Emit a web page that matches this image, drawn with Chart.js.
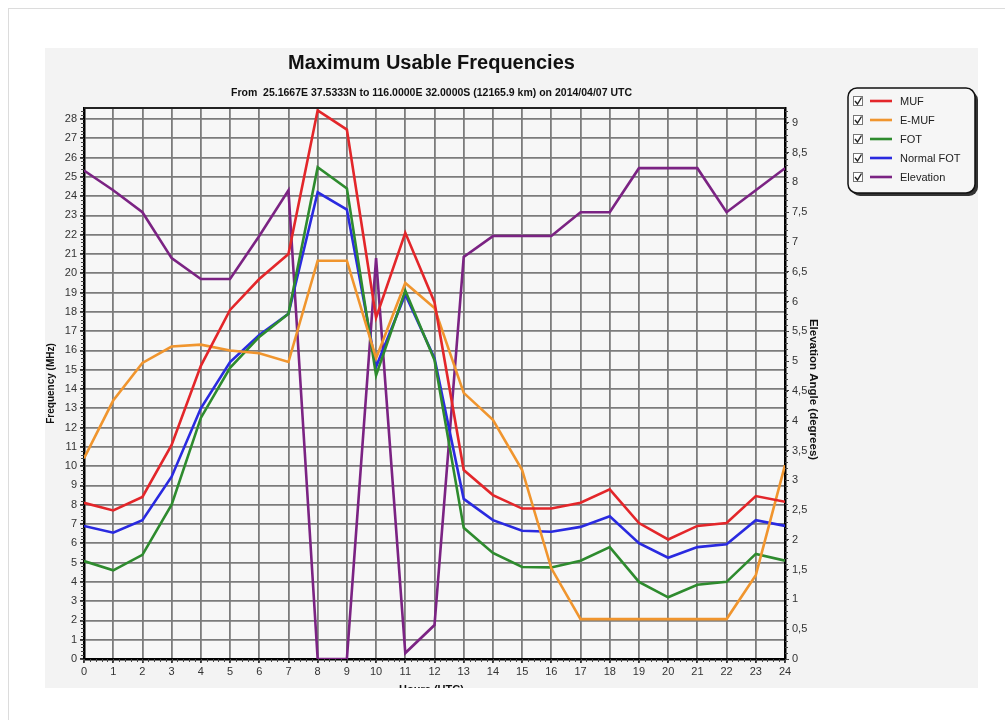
<!DOCTYPE html>
<html><head><meta charset="utf-8">
<script src="https://cdn.jsdelivr.net/npm/chart.js@4"></script>
<style>html,body{margin:0;padding:0;background:#fff;}canvas{display:block;}</style>
</head><body>
<canvas id="c" width="1005" height="720"></canvas>
<script>
const hours = [0,1,2,3,4,5,6,7,8,9,10,11,12,13,14,15,16,17,18,19,20,21,22,23,24];
const muf  = [8.1,7.7,8.4,11.1,15.2,18.1,19.7,21.0,28.45,27.45,17.7,22.1,18.5,9.8,8.5,7.8,7.8,8.1,8.8,7.05,6.2,6.9,7.05,8.45,8.15];
const emuf = [10.4,13.4,15.35,16.2,16.3,16.0,15.85,15.4,20.65,20.65,15.6,19.5,18.2,13.8,12.4,9.8,4.7,2.07,2.07,2.07,2.07,2.07,2.07,4.35,10.05];
const fot  = [5.08,4.6,5.4,8.0,12.5,15.1,16.7,17.9,25.5,24.4,14.7,19.1,15.5,6.8,5.5,4.77,4.75,5.1,5.8,4.0,3.2,3.85,4.0,5.45,5.1];
const nfot = [6.9,6.55,7.2,9.45,13.0,15.4,16.8,17.9,24.2,23.3,15.15,18.9,15.6,8.3,7.2,6.65,6.6,6.85,7.4,6.0,5.25,5.8,5.95,7.2,6.9];
const elev = [8.2,7.87,7.5,6.73,6.38,6.38,7.1,7.87,0,0,6.73,0.1,0.57,6.75,7.1,7.1,7.1,7.5,7.5,8.24,8.24,8.24,7.5,7.87,8.24];
const freqTicks = [0,1,2,3,4,5,6,7,8,9,10,11,12,13,14,15,16,17,18,19,20,21,22,23,24,25,26,27,28];
const elevTicks = [0,0.5,1,1.5,2,2.5,3,3.5,4,4.5,5,5.5,6,6.5,7,7.5,8,8.5,9];
const seriesNames = ['MUF','E-MUF','FOT','Normal FOT','Elevation'];
const titleText = 'Maximum Usable Frequencies';
const subtitleText = 'From  25.1667E 37.5333N to 116.0000E 32.0000S (12165.9 km) on 2014/04/07 UTC';

const FONT = '"Liberation Sans", Arial, sans-serif';
const colors = ['#e3262a','#f0952e','#2e8b2e','#2a2ae0','#7b2383'];
const seriesData = [muf, emuf, fot, nfot, elev];

const datasets = seriesData.map((arr,i)=>({
  label: seriesNames[i],
  data: hours.map((h,k)=>({x:h,y:arr[k]})),
  borderColor: colors[i],
  backgroundColor: colors[i],
  borderWidth: 2.6,
  pointRadius: 0,
  tension: 0,
  yAxisID: i===4 ? 'y2' : 'y'
}));

const deco = {
  id:'deco',
  beforeDraw(chart){
    const ctx = chart.ctx;
    ctx.save();
    ctx.fillStyle='#fff'; ctx.fillRect(0,0,chart.width,chart.height);
    ctx.strokeStyle='#dcdcdc'; ctx.lineWidth=1;
    ctx.strokeRect(8.5,8.5,1100,1100);
    ctx.fillStyle='#f3f3f3'; ctx.fillRect(45,48,933,640);
    const a = chart.chartArea;
    ctx.fillStyle='#f7f7f7'; ctx.fillRect(a.left,a.top,a.right-a.left,a.bottom-a.top);
    ctx.restore();
  },
  afterDraw(chart){
    const ctx = chart.ctx, a = chart.chartArea;
    const cx = (a.left+a.right)/2 - 3;
    ctx.save();
    ctx.strokeStyle='#222'; ctx.lineWidth=2;
    ctx.beginPath(); ctx.moveTo(a.left,a.top); ctx.lineTo(a.right,a.top); ctx.stroke();
    ctx.strokeStyle='#444'; ctx.lineWidth=1;
    const ys = chart.scales.y, y2 = chart.scales.y2, xs = chart.scales.x;
    for(let v=0; v<=28.4; v+=0.2){ const p=Math.round(ys.getPixelForValue(v))+0.5; ctx.beginPath(); ctx.moveTo(a.left-3,p); ctx.lineTo(a.left,p); ctx.stroke(); }
    for(let v=0; v<=9.2; v+=0.1){ const p=Math.round(y2.getPixelForValue(v))+0.5; ctx.beginPath(); ctx.moveTo(a.right,p); ctx.lineTo(a.right+3,p); ctx.stroke(); }
    for(let v=0; v<=24.01; v+=0.2){ const p=Math.round(xs.getPixelForValue(v))+0.5; ctx.beginPath(); ctx.moveTo(p,a.bottom); ctx.lineTo(p,a.bottom+3); ctx.stroke(); }
    ctx.fillStyle='#111'; ctx.textAlign='center'; ctx.textBaseline='middle';
    ctx.font='bold 20px '+FONT; ctx.fillText(titleText, cx, 63);
    ctx.font='bold 10.5px '+FONT; ctx.fillText(subtitleText, cx, 93);
    ctx.save(); ctx.translate(51,(a.top+a.bottom)/2); ctx.rotate(-Math.PI/2);
    ctx.font='bold 10px '+FONT; ctx.fillText('Frequency (MHz)',0,0); ctx.restore();
    ctx.save(); ctx.translate(813,(a.top+a.bottom)/2+6); ctx.rotate(Math.PI/2);
    ctx.font='bold 11.5px '+FONT; ctx.fillText('Elevation Angle (degrees)',0,0); ctx.restore();
    ctx.save(); ctx.beginPath(); ctx.rect(45,48,933,640); ctx.clip();
    ctx.font='bold 11px '+FONT; ctx.fillText('Hours (UTC)', cx, 690); ctx.restore();
    const lx=848, ly=88, lw=127, lh=105, r=9;
    const rr=(x,y,w,h)=>{ctx.beginPath();ctx.moveTo(x+r,y);ctx.arcTo(x+w,y,x+w,y+h,r);ctx.arcTo(x+w,y+h,x,y+h,r);ctx.arcTo(x,y+h,x,y,r);ctx.arcTo(x,y,x+w,y,r);ctx.closePath();};
    ctx.fillStyle='#333'; rr(lx+3,ly+3,lw,lh); ctx.fill();
    ctx.fillStyle='#f6f6f6'; rr(lx,ly,lw,lh); ctx.fill();
    ctx.strokeStyle='#111'; ctx.lineWidth=1.5; rr(lx,ly,lw,lh); ctx.stroke();
    ctx.textAlign='left'; ctx.font='11px '+FONT;
    chart.data.datasets.forEach((d,i)=>{
      const yy = 101 + i*19;
      ctx.strokeStyle='#777'; ctx.lineWidth=1; ctx.fillStyle='#fff';
      ctx.fillRect(853.5,yy-4.5,9,9); ctx.strokeRect(853.5,yy-4.5,9,9);
      ctx.strokeStyle='#222'; ctx.lineWidth=1.4;
      ctx.beginPath(); ctx.moveTo(855,yy); ctx.lineTo(857.5,yy+3); ctx.lineTo(861.5,yy-3.5); ctx.stroke();
      ctx.strokeStyle=d.borderColor; ctx.lineWidth=2.6;
      ctx.beginPath(); ctx.moveTo(870,yy); ctx.lineTo(892,yy); ctx.stroke();
      ctx.fillStyle='#222'; ctx.fillText(d.label, 900, yy+1);
    });
    ctx.restore();
  }
};

const tickFont = {family: FONT, size: 11};
new Chart(document.getElementById('c'), {
  type:'line',
  data:{datasets},
  options:{
    responsive:false, animation:false,
    layout:{padding:{left:44, right:180, top:108, bottom:36}},
    plugins:{legend:{display:false}, tooltip:{enabled:false}},
    scales:{
      x:{type:'linear', min:0, max:24,
        afterBuildTicks(s){ s.ticks = hours.map(v=>({value:v})); },
        afterFit(s){ s.height=25; },
        ticks:{font:tickFont, color:'#333', padding:2, maxRotation:0, autoSkip:false},
        grid:{color:'#7c7c7c', lineWidth:1.8, tickLength:4, tickColor:'#333'},
        border:{color:'#000', width:2.5}},
      y:{type:'linear', position:'left', min:0, max:28.57,
        afterBuildTicks(s){ s.ticks = freqTicks.map(v=>({value:v})); },
        afterFit(s){ s.width=40; },
        ticks:{font:tickFont, color:'#333', padding:3, autoSkip:false},
        grid:{color:'#7c7c7c', lineWidth:1.8, tickLength:4, tickColor:'#333'},
        border:{color:'#000', width:2.5}},
      y2:{type:'linear', position:'right', min:0, max:9.25,
        afterBuildTicks(s){ s.ticks = elevTicks.map(v=>({value:v})); },
        afterFit(s){ s.width=40; },
        ticks:{font:tickFont, color:'#333', padding:3, autoSkip:false,
          callback:(v)=>String(v).replace('.',',')},
        grid:{drawOnChartArea:false, tickLength:4, tickColor:'#333'},
        border:{color:'#000', width:2.5}}
    }
  },
  plugins:[deco]
});
</script>
</body></html>
